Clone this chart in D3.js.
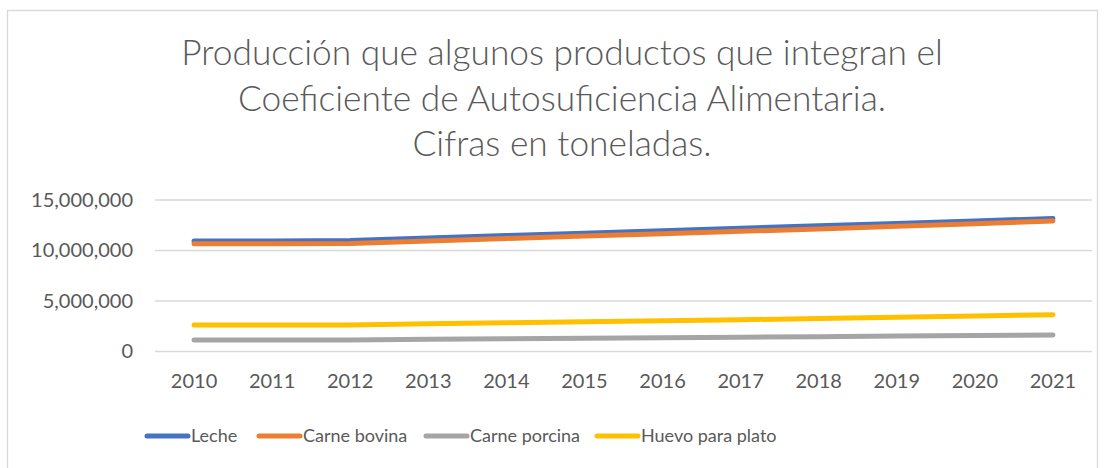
<!DOCTYPE html>
<html>
<head>
<meta charset="utf-8">
<script src="https://cdn.jsdelivr.net/npm/d3@7"></script>
<style>
  body { margin: 0; background: #fff; }
  svg { display: block; font-family: Lato, "Open Sans", sans-serif; }
</style>
</head>
<body>
<svg id="chart" width="1105" height="468"></svg>
<script>
// data (tonnes)
const years = ['2010', '2011', '2012', '2013', '2014', '2015', '2016', '2017', '2018', '2019', '2020', '2021'];
const leche = [10940000, 10940000, 10990000, 11240000, 11480000, 11720000, 11960000, 12200000, 12440000, 12680000, 12920000, 13170000];
const carneBovina = [10660000, 10660000, 10700000, 10950000, 11190000, 11430000, 11670000, 11900000, 12140000, 12390000, 12650000, 12930000];
const carnePorcina = [1140000, 1140000, 1150000, 1210000, 1260000, 1310000, 1360000, 1420000, 1470000, 1530000, 1580000, 1630000];
const huevo = [2620000, 2620000, 2630000, 2740000, 2840000, 2940000, 3040000, 3150000, 3260000, 3380000, 3510000, 3640000];
const yTicks = [0, 5000000, 10000000, 15000000];
const titleLines = ['Producción que algunos productos que integran el', 'Coeficiente de Autosuficiencia Alimentaria.', 'Cifras en toneladas.'];

const series = [
  { name: 'Leche', values: leche, color: '#4472C4' },
  { name: 'Carne bovina', values: carneBovina, color: '#ED7D31' },
  { name: 'Carne porcina', values: carnePorcina, color: '#A5A5A5' },
  { name: 'Huevo para plato', values: huevo, color: '#FFC000' }
];

const svg = d3.select('#chart');
const textColor = '#595959';
const gridColor = '#D9D9D9';

// chart frame
svg.append('rect')
  .attr('x', 7.5).attr('y', 10.5)
  .attr('width', 1090).attr('height', 470)
  .attr('fill', '#fff')
  .attr('stroke', gridColor)
  .attr('stroke-width', 1.3);

// title
const title = svg.append('g');
title.selectAll('text')
  .data(titleLines)
  .enter()
  .append('text')
  .attr('x', 562)
  .attr('y', (d, i) => 65 + i * 45.5)
  .attr('text-anchor', 'middle')
  .attr('fill', textColor)
  .style('font-weight', 300)
  .style('font-size', '30px')
  .text(d => d);
// fit the first line to the width it has in the picture
const w0 = title.select('text').node().getComputedTextLength();
title.selectAll('text').style('font-size', `${30 * 762 / w0}px`);

const x = d3.scaleBand().domain(years).range([155, 1092]);
const y = d3.scaleLinear().domain([0, 15000000]).range([351.5, 200]);

// gridlines
svg.append('g')
  .selectAll('line')
  .data(yTicks)
  .enter()
  .append('line')
  .attr('x1', 155).attr('x2', 1092)
  .attr('y1', d => y(d)).attr('y2', d => y(d))
  .attr('stroke', gridColor)
  .attr('stroke-width', 1.3);

// y axis labels
const yAxis = svg.append('g')
  .attr('transform', 'translate(155,0)')
  .call(d3.axisLeft(y).tickValues(yTicks).tickFormat(d3.format(',')).tickSize(0).tickPadding(22));
yAxis.select('.domain').remove();
yAxis.selectAll('text')
  .attr('fill', textColor)
  .style('font-size', '20px')
  .style('font-family', 'Lato, sans-serif');

// x axis labels
const xAxis = svg.append('g')
  .attr('transform', 'translate(0,351.5)')
  .call(d3.axisBottom(x).tickSize(0).tickPadding(22));
xAxis.select('.domain').remove();
xAxis.selectAll('text')
  .attr('fill', textColor)
  .style('font-size', '20px')
  .style('font-family', 'Lato, sans-serif');

// lines
const line = d3.line()
  .x((d, i) => x(years[i]) + x.bandwidth() / 2)
  .y(d => y(d));

svg.append('g')
  .selectAll('path')
  .data(series)
  .enter()
  .append('path')
  .attr('d', d => line(d.values))
  .attr('fill', 'none')
  .attr('stroke', d => d.color)
  .attr('stroke-width', 5)
  .attr('stroke-linecap', 'round')
  .attr('stroke-linejoin', 'round');

// legend
const legendX = [147, 259, 426, 597];
const legend = svg.append('g')
  .selectAll('g')
  .data(series)
  .enter()
  .append('g')
  .attr('transform', (d, i) => `translate(${legendX[i]},436)`);
legend.append('line')
  .attr('x1', 0).attr('x2', 41)
  .attr('stroke', d => d.color)
  .attr('stroke-width', 5)
  .attr('stroke-linecap', 'round');
legend.append('text')
  .attr('x', 44)
  .attr('dy', '0.35em')
  .attr('fill', textColor)
  .style('font-size', '18px')
  .text(d => d.name);
</script>
</body>
</html>
